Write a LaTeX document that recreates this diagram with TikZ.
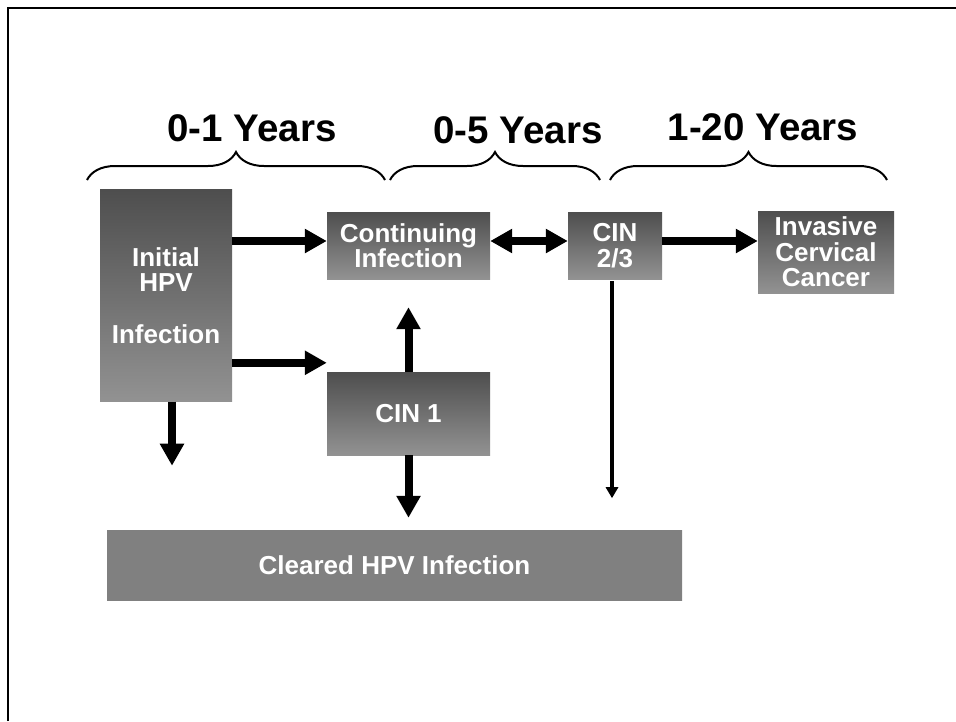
\documentclass[tikz,border=0pt]{standalone}
\usepackage{fontspec}
\setmainfont{Liberation Sans}
\usetikzlibrary{arrows.meta,decorations.pathreplacing}
\definecolor{boxtop}{RGB}{78,78,78}
\definecolor{boxbottom}{RGB}{146,146,146}
\definecolor{clearedgray}{RGB}{128,128,128}

\begin{document}
\begin{tikzpicture}[x=1pt, y=-1pt, every node/.style={text=white}]
    \tikzstyle{stage}=[rectangle, inner sep=0pt, top color=boxtop, bottom color=boxbottom, align=center, font=\fontsize{26}{25.5}\selectfont\bfseries]
    \tikzstyle{cleared stage}=[stage, shading={}, fill=clearedgray, top color=clearedgray, bottom color=clearedgray]
    \tikzstyle{years}=[text=black, anchor=base, font=\fontsize{38.5}{40}\selectfont\bfseries]
    \tikzstyle{yearbrace}=[draw=black, line width=2pt, decorate, decoration={brace, amplitude=28pt}]
    \tikzstyle{bigarrow}=[draw=black, line width=8pt, -{Triangle[length=22pt, width=23pt]}]
    \tikzstyle{bothways}=[bigarrow, {Triangle[length=22pt, width=23pt]}-{Triangle[length=22pt, width=23pt]}]
    \tikzstyle{thinarrow}=[draw=black, line width=3.5pt, -{Triangle[length=11pt, width=12pt]}]

    \useasboundingbox (0,0) rectangle (956,721);

    % Slide frame
    \draw[line width=2.5pt] (8,721) -- (8,8) -- (956,8);

    % Time spans
    \foreach \from/\to in {87/385, 390/600, 610/887}
        \draw[yearbrace] (\from,180) -- (\to,180);
    \node[years] (span-1) at (252,141) {0-1 Years};
    \node[years] (span-2) at (518,143) {0-5 Years};
    \node[years] (span-3) at (763,140) {1-20 Years};

    % Stages
    \node[stage, minimum width=132pt, minimum height=212pt] (initial) at (166,295.5) {Initial\\HPV\\[26pt]Infection};
    \node[stage, minimum width=163pt, minimum height=67pt] (continuing) at (408.5,245.5) {Continuing\\Infection};
    \node[stage, minimum width=163pt, minimum height=83pt] (cin1) at (408.5,413.5) {CIN 1};
    \node[stage, minimum width=94pt, minimum height=67pt] (cin23) at (615,245.5) {CIN\\2/3};
    \node[stage, minimum width=136pt, minimum height=82pt] (cancer) at (826,252) {Invasive\\Cervical\\Cancer};
    \node[cleared stage, minimum width=575pt, minimum height=70pt] (cleared) at (394.5,565) {Cleared HPV Infection};

    % Row of the upper arrows
    \coordinate (row) at ([yshift=4.5pt]continuing.west);
    \coordinate (lower row) at ([yshift=9pt]cin1.north west);
    \coordinate (initial drop) at ([xshift=6pt]initial.south);
    \coordinate (cin23 drop) at ([xshift=-3pt, yshift=-2pt]cin23.south);
    \coordinate (cleared top) at (cin1.south |- cleared.north);

    % Progression
    \draw[bigarrow] (initial.east |- row) -- (row);
    \draw[bigarrow] (initial.east |- lower row) -- (lower row);
    \draw[bothways] (continuing.east |- row) -- (cin23.west |- row);
    \draw[bigarrow] (cin23.east |- row) -- (cancer.west |- row);
    \draw[bigarrow] (cin1.north) -- ([yshift=-28pt]continuing.south);

    % Clearance
    \draw[bigarrow] (initial drop) -- ([yshift=-64pt]initial drop);
    \draw[bigarrow] (cin1.south) -- ([yshift=12pt]cleared top);
    \draw[thinarrow] (cin23 drop) -- ([yshift=-217pt]cin23 drop);
\end{tikzpicture}
\end{document}
